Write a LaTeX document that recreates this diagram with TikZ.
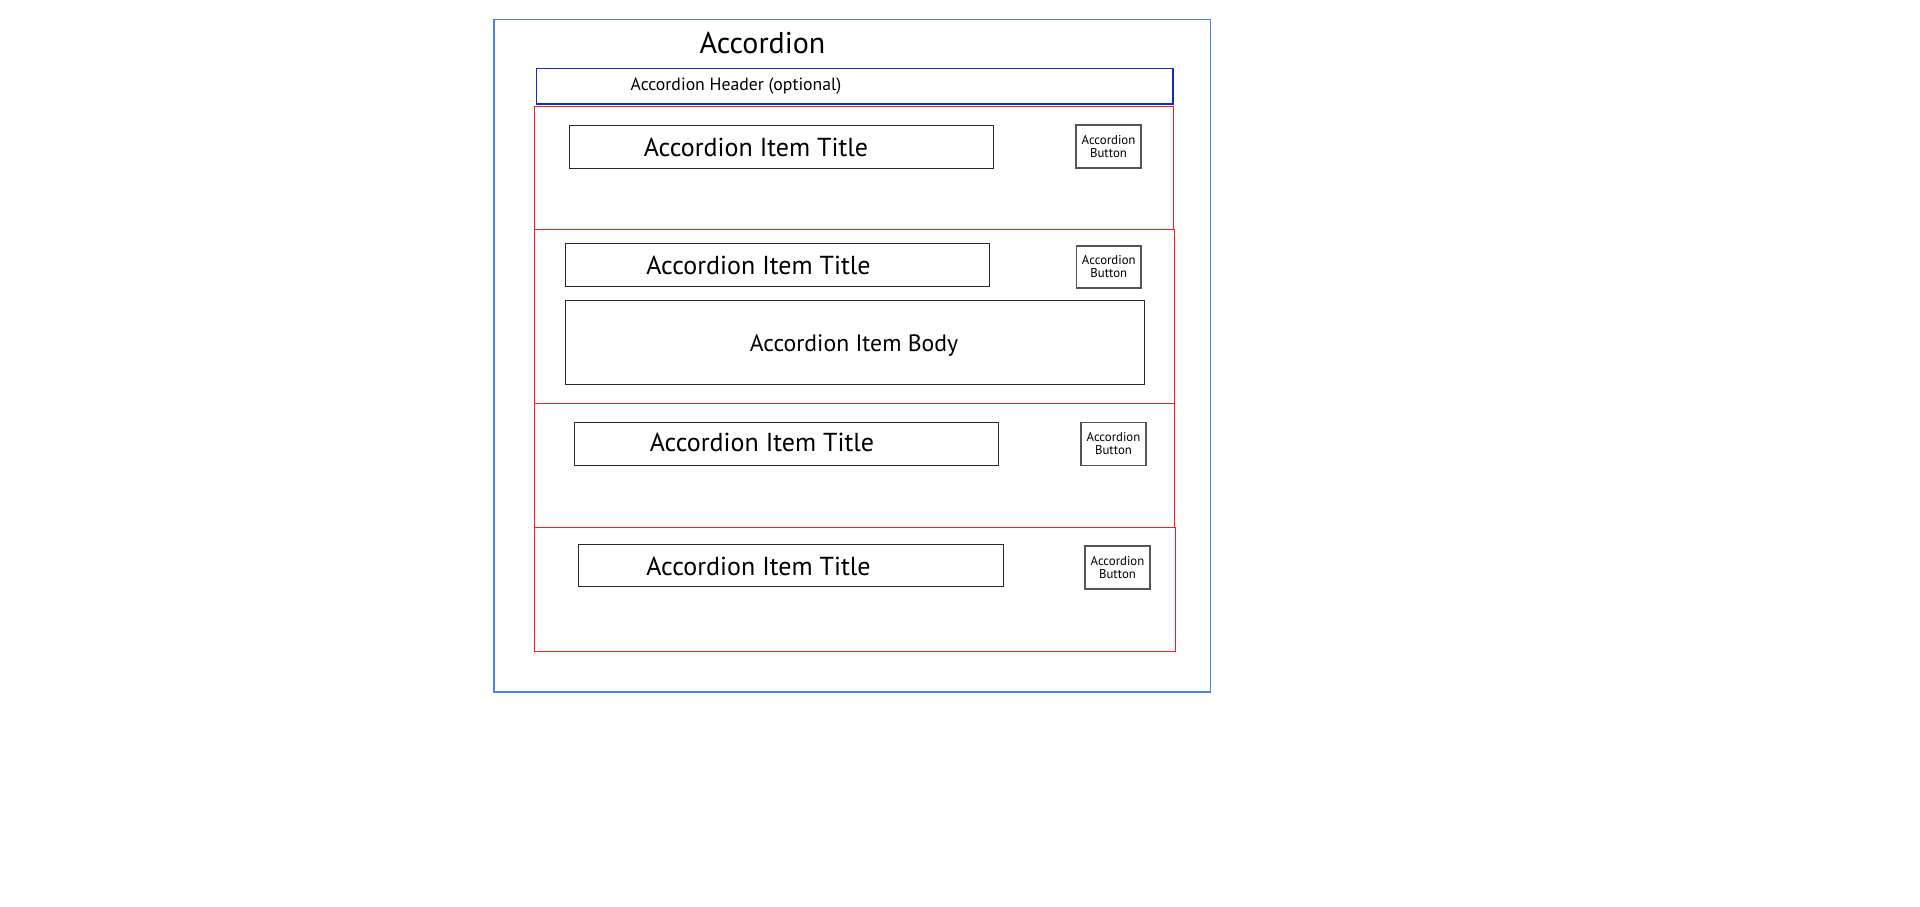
\documentclass[tikz,border=0pt]{standalone}
\usepackage{fontspec}
\setmainfont{PT Sans}
\definecolor{outerblue}{RGB}{74,134,232}
\definecolor{headblue}{RGB}{20,40,200}
\definecolor{itemred}{RGB}{240,30,30}
\definecolor{boxgray}{RGB}{40,40,40}
\definecolor{btngray}{RGB}{85,85,85}
\tikzset{
  frame/.style={draw, line width=1.3pt, inner sep=0pt, outer sep=0pt},
  itembox/.style={frame, draw=itemred, line width=1pt},
  titlebox/.style={frame, draw=boxgray, line width=0.9pt},
  btnbox/.style={frame, draw=btngray, line width=1.2pt},
  acctxt/.style={inner sep=0pt, font=\fontsize{30}{34}\selectfont},
  bigtxt/.style={inner sep=0pt, font=\fontsize{26}{30}\selectfont},
  bodytxt/.style={inner sep=0pt, font=\fontsize{23.7}{27}\selectfont},
  headtxt/.style={inner sep=0pt, font=\fontsize{17.7}{20}\selectfont},
  btntxt/.style={inner sep=0pt, align=center, font=\fontsize{12.8}{13}\selectfont},
}
\begin{document}
\begin{tikzpicture}[x=1pt,y=-1pt]
\useasboundingbox (0,0) rectangle (1920,906);
% outer accordion frame
\draw[frame, draw=outerblue] (494,19.5) rectangle (1210.5,692);
\node[acctxt] (acc) at (762.5,43) {Accordion};
% header
\draw[frame, draw=headblue] (536.5,68.5) rectangle (1173,104);
\node[headtxt] (hdr) at (736,86) {Accordion Header (optional)};
% items
\draw[itembox] (534,106.5) rectangle (1173,229);
\draw[itembox] (534,229) rectangle (1174,403.5);
\draw[itembox] (534,403.5) rectangle (1174.5,527);
\draw[itembox] (534,527) rectangle (1175.5,651.5);
% item 1
\draw[titlebox] (569.5,125) rectangle (993,168);
\node[bigtxt] (t1) at (756,147) {Accordion Item Title};
\draw[btnbox] (1076,125) rectangle (1141,168);
\node[btntxt] (b1) at (1108.5,146.5) {Accordion\\Button};
% item 2
\draw[titlebox] (565.5,243.5) rectangle (989.5,286.5);
\node[bigtxt] (t2) at (758.5,265) {Accordion Item Title};
\draw[btnbox] (1076.5,246) rectangle (1141,288);
\node[btntxt] (b2) at (1108.8,267) {Accordion\\Button};
\draw[titlebox] (565.5,300) rectangle (1144,384.5);
\node[bodytxt] (body) at (854,345) {Accordion Item Body};
% item 3
\draw[titlebox] (574.5,422.5) rectangle (998,465.5);
\node[bigtxt] (t3) at (762,442) {Accordion Item Title};
\draw[btnbox] (1081,422.5) rectangle (1146,465.5);
\node[btntxt] (b3) at (1113.5,444) {Accordion\\Button};
% item 4
\draw[titlebox] (578,544) rectangle (1003,586.5);
\node[bigtxt] (t4) at (758.5,566) {Accordion Item Title};
\draw[btnbox] (1085,546) rectangle (1150,589);
\node[btntxt] (b4) at (1117.5,567.5) {Accordion\\Button};
\end{tikzpicture}
\end{document}
